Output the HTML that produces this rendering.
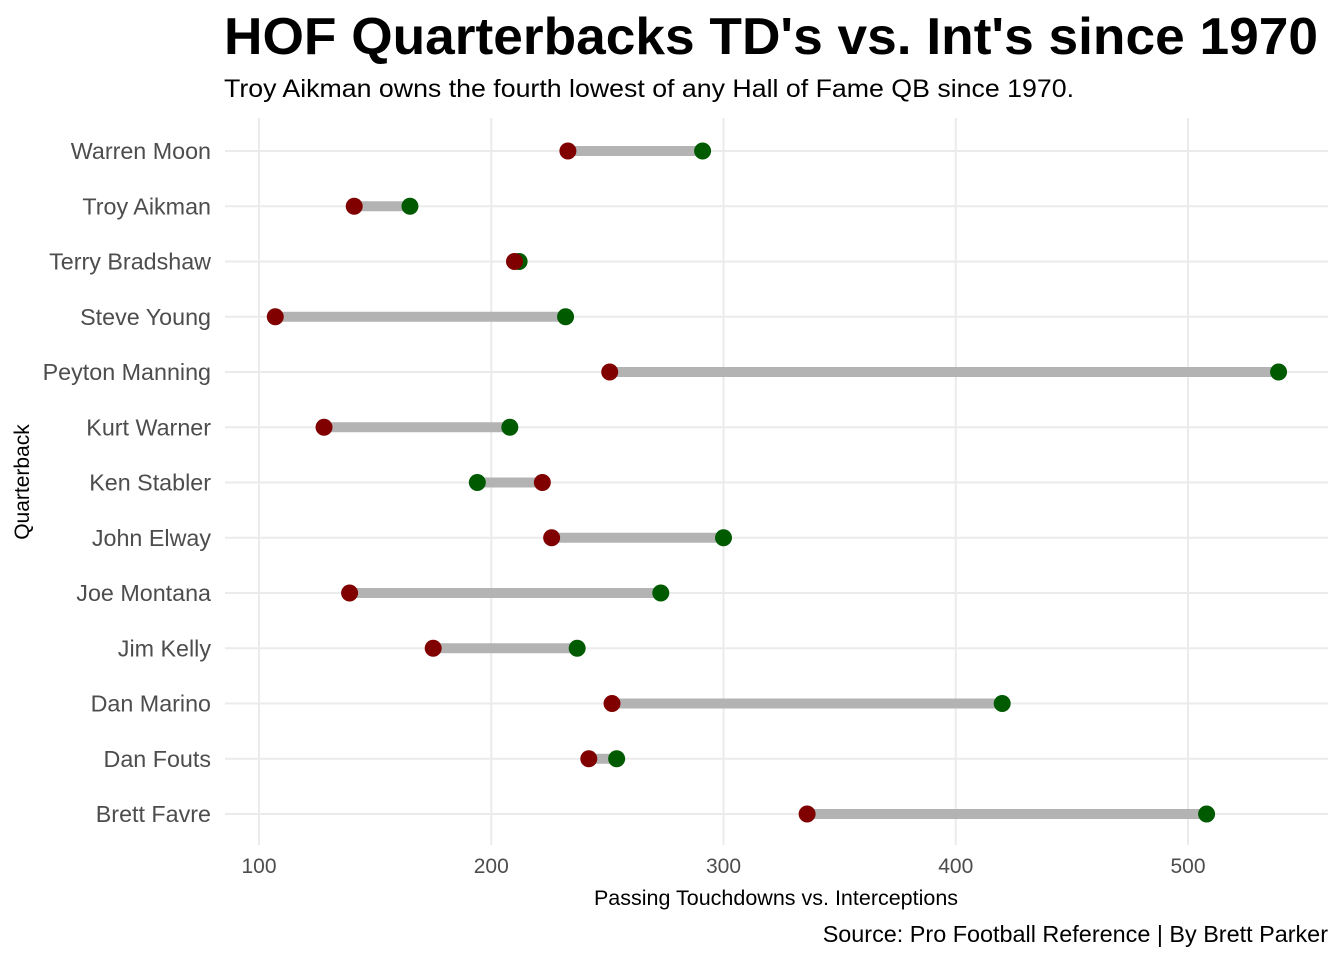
<!DOCTYPE html>
<html><head><meta charset="utf-8"><style>
body{margin:0;background:#fff;}
svg{display:block;font-family:"Liberation Sans",Arial,sans-serif;}
</style></head><body>
<svg id="chart" width="1344" height="960"></svg>
<script>
const players=["Warren Moon","Troy Aikman","Terry Bradshaw","Steve Young","Peyton Manning","Kurt Warner","Ken Stabler","John Elway","Joe Montana","Jim Kelly","Dan Marino","Dan Fouts","Brett Favre"];
const touchdowns=[291,165,212,232,539,208,194,300,273,237,420,254,508];
const interceptions=[233,141,210,107,251,128,222,226,139,175,252,242,336];
const xTicks=[100,200,300,400,500];
const NS="http://www.w3.org/2000/svg";
const svg=document.getElementById('chart');
const xs=v=>259+(v-100)*2.3225;
const ys=i=>151+i*55.25;
function mk(t,a,txt){const e=document.createElementNS(NS,t);for(const k in a)e.setAttribute(k,a[k]);if(txt!==undefined)e.textContent=txt;svg.appendChild(e);return e;}
let e;
e=mk('text',{x:224,y:54,'font-size':52,'font-weight':'bold',fill:'#000',textLength:1094,lengthAdjust:'spacingAndGlyphs'},"HOF Quarterbacks TD's vs. Int's since 1970");


e=mk('text',{x:224,y:97,'font-size':25,fill:'#000',textLength:850,lengthAdjust:'spacingAndGlyphs'},"Troy Aikman owns the fourth lowest of any Hall of Fame QB since 1970.");


xTicks.forEach(t=>{
  e=mk('line',{x1:xs(t),x2:xs(t),y1:118,y2:845,stroke:'#ebebeb','stroke-width':2});
  
  
  e=mk('text',{x:xs(t),y:873,'font-size':21,fill:'#4d4d4d','text-anchor':'middle'},t);
  
  
});
players.forEach((p,i)=>{
  e=mk('line',{x1:225,x2:1328,y1:ys(i),y2:ys(i),stroke:'#ebebeb','stroke-width':2});
  
  
  e=mk('text',{x:211,y:ys(i)+8,'font-size':23.3,fill:'#4d4d4d','text-anchor':'end'},p);
  
  
});
players.forEach((p,i)=>{
  e=mk('line',{x1:xs(interceptions[i]),x2:xs(touchdowns[i]),y1:ys(i),y2:ys(i),stroke:'#b3b3b3','stroke-width':10});
  
  
  e=mk('circle',{cx:xs(touchdowns[i]),cy:ys(i),r:8.5,fill:'#005a00'});
  
  
  e=mk('circle',{cx:xs(interceptions[i]),cy:ys(i),r:8.5,fill:'#800000'});
  
  
});
e=mk('text',{x:776,y:905,'font-size':21.5,fill:'#000','text-anchor':'middle'},"Passing Touchdowns vs. Interceptions");


e=mk('text',{x:0,y:0,'font-size':21,fill:'#000','text-anchor':'middle',transform:'translate(29,482) rotate(-90)'},"Quarterback");


e=mk('text',{x:1328,y:942,'font-size':23.4,fill:'#000','text-anchor':'end'},"Source: Pro Football Reference | By Brett Parker");


</script>
</body></html>
